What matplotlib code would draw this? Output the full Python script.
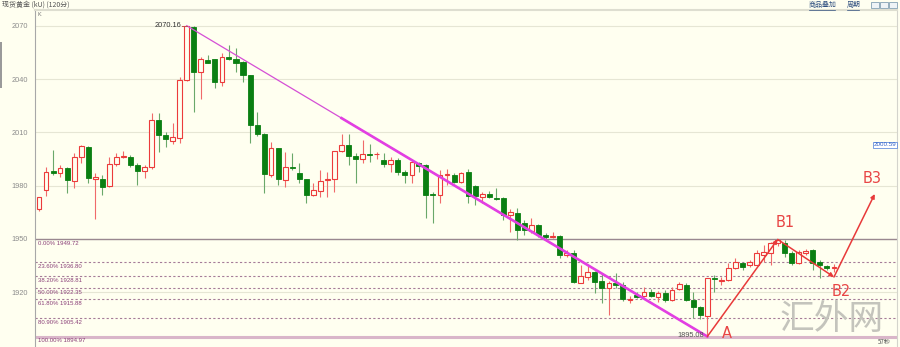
import matplotlib
matplotlib.use("Agg")
import matplotlib.pyplot as plt
from matplotlib.patches import Rectangle

# candle data (120 min bars)
opens = [1966.7, 1977.6, 1988.0, 1987.0, 1989.8, 1982.8, 1996.3, 2002.0, 1984.0, 1983.8,
         1979.8, 1992.2, 1996.0, 1996.3, 1991.6, 1988.4, 1990.7, 2017.0, 2008.6, 2005.4,
         2006.7, 2039.6, 2069.3, 2044.2, 2050.8, 2051.2, 2038.3, 2052.4, 2051.4, 2049.5,
         2042.4, 2014.2, 2009.1, 1986.0, 2001.1, 1983.2, 1990.7, 1987.0, 1983.6, 1974.7,
         1977.2, 1983.2, 1983.6, 1999.5, 2002.9, 1996.7, 1994.9, 1997.7, 1997.6, 1994.5,
         1992.0, 1994.5, 1987.9, 1986.0, 1992.6, 1991.6, 1975.3, 1974.7, 1985.8, 1986.0,
         1982.2, 1987.5, 1979.8, 1973.4, 1975.3, 1973.2, 1972.9, 1963.5, 1964.8, 1958.8,
         1954.5, 1957.8, 1952.2, 1951.0, 1951.6, 1940.9, 1941.8, 1925.3, 1928.7, 1931.1,
         1926.3, 1922.1, 1925.3, 1924.0, 1915.6, 1918.4, 1917.8, 1919.9, 1917.4, 1919.3,
         1915.5, 1921.6, 1924.0, 1915.5, 1911.4, 1906.5, 1927.8, 1926.3, 1926.8, 1933.4,
         1936.2, 1935.3, 1935.3, 1940.9, 1941.8, 1947.5, 1947.8, 1942.2, 1936.6, 1941.8,
         1943.7, 1937.1, 1934.7, 1933.4]
highs = [1973.5, 1990.7, 2000.1, 1991.6, 1990.5, 1998.2, 2003.0, 2002.5, 1987.3, 1986.0,
         1996.0, 1998.6, 1999.7, 1997.3, 1992.6, 1991.6, 2020.8, 2020.8, 2010.4, 2015.2,
         2041.4, 2070.16, 2069.8, 2052.7, 2053.7, 2051.5, 2054.6, 2059.3, 2057.4, 2050.0,
         2042.6, 2021.7, 2009.5, 2004.8, 2001.5, 1999.1, 1998.2, 1992.6, 1984.0, 1981.3,
         1988.8, 1987.9, 1999.8, 2009.1, 2009.0, 1998.2, 2005.7, 2003.5, 1999.1, 1998.2,
         1996.3, 1995.5, 1988.8, 1994.5, 1993.5, 1992.0, 1976.6, 1988.8, 1989.4, 1987.0,
         1987.9, 1989.4, 1980.5, 1976.6, 1977.2, 1978.5, 1973.5, 1966.7, 1967.2, 1960.6,
         1961.6, 1958.5, 1953.5, 1954.0, 1952.0, 1943.7, 1943.7, 1935.3, 1935.3, 1932.0,
         1930.6, 1926.0, 1930.6, 1925.9, 1917.8, 1920.2, 1923.0, 1921.6, 1920.8, 1921.2,
         1923.0, 1925.9, 1925.0, 1920.2, 1912.0, 1928.0, 1929.6, 1928.7, 1936.2, 1939.0,
         1937.1, 1938.0, 1943.7, 1946.5, 1948.0, 1949.72, 1949.4, 1943.0, 1943.5, 1944.1,
         1944.3, 1938.0, 1935.5, 1935.8]
lows = [1965.9, 1974.2, 1986.0, 1984.7, 1975.7, 1978.5, 1993.0, 1981.7, 1961.0, 1974.7,
        1979.0, 1991.1, 1995.4, 1990.3, 1980.4, 1984.2, 1989.2, 1999.1, 2002.0, 2003.5,
        2003.9, 2039.0, 2021.7, 2028.7, 2049.0, 2035.2, 2036.4, 2050.8, 2044.2, 2038.6,
        2003.9, 2008.0, 1975.7, 1985.0, 1980.4, 1979.4, 1988.8, 1981.3, 1970.4, 1974.2,
        1973.8, 1973.8, 1976.6, 1999.0, 1991.6, 1981.7, 1992.6, 1993.5, 1994.9, 1990.7,
        1987.9, 1986.0, 1981.3, 1981.3, 1987.9, 1961.6, 1958.8, 1970.4, 1980.4, 1981.5,
        1981.5, 1970.4, 1969.1, 1970.0, 1972.9, 1971.9, 1960.6, 1954.0, 1949.4, 1952.2,
        1953.5, 1951.2, 1950.0, 1950.3, 1939.0, 1940.0, 1925.0, 1925.0, 1926.8, 1919.7,
        1913.7, 1907.1, 1922.1, 1915.0, 1913.7, 1916.5, 1917.0, 1917.0, 1914.6, 1914.6,
        1915.0, 1921.0, 1915.0, 1905.2, 1904.7, 1894.97, 1920.2, 1924.0, 1926.0, 1933.0,
        1932.5, 1934.0, 1935.0, 1937.1, 1935.3, 1946.0, 1940.0, 1935.3, 1936.0, 1941.0,
        1932.5, 1927.8, 1932.5, 1931.5]
closes = [1973.4, 1987.9, 1987.0, 1989.8, 1983.2, 1996.3, 2002.4, 1984.2, 1984.6, 1979.4,
          1992.2, 1996.3, 1996.4, 1991.6, 1988.4, 1990.7, 2017.0, 2008.6, 2006.1, 2007.3,
          2039.6, 2070.0, 2044.2, 2051.2, 2049.3, 2038.3, 2052.4, 2051.2, 2049.0, 2042.4,
          2014.2, 2009.0, 1986.6, 2001.1, 1983.6, 1990.7, 1989.8, 1983.6, 1974.7, 1977.6,
          1982.8, 1983.8, 1999.5, 2002.9, 1996.7, 1994.9, 1997.7, 1997.1, 1998.0, 1992.0,
          1994.5, 1987.9, 1986.0, 1993.5, 1991.1, 1974.7, 1974.7, 1986.0, 1986.3, 1982.2,
          1987.0, 1974.2, 1974.2, 1975.3, 1973.4, 1972.6, 1963.5, 1965.3, 1955.0, 1955.0,
          1957.8, 1952.2, 1950.9, 1951.4, 1940.9, 1942.2, 1925.9, 1929.1, 1931.5, 1925.9,
          1922.1, 1925.0, 1924.0, 1915.9, 1916.2, 1917.4, 1920.2, 1917.8, 1919.7, 1915.5,
          1921.2, 1924.4, 1915.5, 1911.8, 1907.1, 1927.8, 1927.2, 1926.8, 1933.4, 1937.1,
          1934.3, 1937.1, 1941.8, 1942.8, 1947.5, 1949.4, 1941.8, 1936.6, 1942.8, 1943.3,
          1936.2, 1935.3, 1933.4, 1934.0]

yticks = [1920, 1950, 1980, 2010, 2040, 2070]

fib_pcts = ["0.00%", "23.60%", "38.20%", "50.00%", "61.80%", "80.90%", "100.00%"]
fib_vals = [1949.72, 1936.80, 1928.81, 1922.35, 1915.88, 1905.42, 1894.97]

# trend line and wave marks (bar index, price)
trend_start = (21, 2070.16)
trend_end = (95, 1894.97)
wave_names = ["A", "B1", "B2", "B3"]
wave_pts = [(95, 1894.97), (105, 1949.72), (113, 1928.5), (118.8, 1975.3)]
wave_label_pos = [(97.8, 1896.4), (106.0, 1959.5), (114.1, 1920.6), (118.4, 1984.3)]

BG = "#fffff0"
RED = "#ec3b3b"
GREEN = "#0a7f12"

W, H = 900, 347


def px(x, y):
    """pixel position -> figure fraction"""
    return x / W, 1 - y / H


fig = plt.figure(figsize=(9, 3.47), dpi=100, facecolor=BG)
ax = fig.add_axes([35 / W, 0, (897 - 35) / W, (347 - 10) / H])
ax.set_facecolor(BG)

for i in range(len(opens)):
    o, h, l, c = opens[i], highs[i], lows[i], closes[i]
    up = c >= o
    wick = "#f06a6a" if up else "#6aa86a"
    ax.vlines(i, l, h, color=wick, lw=0.8, zorder=3)
    bottom = min(o, c)
    height = max(abs(c - o), 0.45)
    if up:
        ax.bar(i, height, bottom=bottom, width=0.66, facecolor=BG,
               edgecolor=RED, lw=0.8, zorder=4)
    else:
        ax.bar(i, height, bottom=bottom, width=0.72, facecolor=GREEN,
               edgecolor=GREEN, lw=0.6, zorder=4)

# fibonacci retracement
for k, (pct, val) in enumerate(zip(fib_pcts, fib_vals)):
    if k == 0:
        ax.axhline(val, color="#9a8890", lw=1.0, zorder=2)
    elif k == len(fib_vals) - 1:
        ax.axhline(val, color="#d9b6c9", lw=2.2, zorder=2)
    else:
        ax.axhline(val, color="#a57c98", lw=0.8, ls=(0, (2, 2)), zorder=2)
    ax.text(-0.2, val - 0.9, f"{pct} {val:.2f}", fontsize=4.3, color="#8a3f78",
            family="Liberation Sans", va="top", ha="left", zorder=5)

# down trend line
ax.plot([trend_start[0], trend_end[0]], [trend_start[1], trend_end[1]],
        color="#d54fd5", lw=0.9, zorder=5)
t0 = 43
y0 = trend_start[1] + (trend_end[1] - trend_start[1]) * (t0 - trend_start[0]) / (trend_end[0] - trend_start[0])
ax.plot([t0, trend_end[0]], [y0, trend_end[1]], color="#e23fe2", lw=1.9, zorder=5)

ax.plot([trend_start[0] - 0.7, trend_start[0]], [trend_start[1], trend_start[1]],
        color="#c05050", lw=0.7, zorder=5)
ax.text(trend_start[0] - 0.8, trend_start[1], "2070.16", fontsize=5.3, color="#333333",
        family="Liberation Sans", ha="right", va="center", zorder=6)
ax.text(trend_end[0] - 0.4, trend_end[1] + 0.3, "1895.08", fontsize=5.3, color="#555555",
        family="Liberation Sans", ha="right", va="center", zorder=6)

# wave arrows A -> B1 -> B2 -> B3
for a, b in zip(wave_pts[:-1], wave_pts[1:]):
    ax.annotate("", xy=b, xytext=a,
                arrowprops=dict(arrowstyle="-|>", color="#e83a3a", lw=1.1,
                                mutation_scale=6, shrinkA=0, shrinkB=0), zorder=7)
for name, (xx, yy) in zip(wave_names, wave_label_pos):
    ax.text(xx, yy, name, fontsize=10.5, color="#e84545", ha="center", va="center", zorder=7)

ax.set_xlim(-0.57, (897 - 39) / 7.035)
ax.set_ylim(2070 - (347 - 26) / 1.774, 2070 + 16 / 1.774)
ax.set_yticks(yticks)
ax.set_yticklabels([str(v) for v in yticks], fontsize=5.3, color="#8c8c8c",
                   family="Liberation Sans")
ax.tick_params(axis="y", length=0, pad=5)
ax.set_xticks([])
ax.grid(axis="y", color="#e6e6d4", lw=0.8, zorder=1)

ax.spines["left"].set_color("#a8a8a8")
ax.spines["left"].set_linewidth(0.8)
ax.spines["top"].set_color("#deded0")
ax.spines["top"].set_linewidth(1.5)
ax.spines["right"].set_color("#d4d4cc")
ax.spines["right"].set_linewidth(0.8)
ax.spines["bottom"].set_visible(False)

# header and screen decorations
cjk = ["Noto Sans CJK SC", "DejaVu Sans"]
fig.text(*px(2, 4.5), "现货黄金 (kU) (120分)", fontsize=5, color="#555555",
         family=cjk, va="center", ha="left")
fig.text(*px(809, 4.5), "商品叠加", fontsize=5, color="#2f4f7f", family=cjk,
         va="center", ha="left")
fig.text(*px(847, 4.5), "周期", fontsize=5, color="#2f4f7f", family=cjk,
         va="center", ha="left")
fig.add_artist(plt.Line2D([809 / W, 835 / W], [1 - 9.5 / H, 1 - 9.5 / H], color="#2f4f7f", lw=0.5))
fig.add_artist(plt.Line2D([847 / W, 859 / W], [1 - 9.5 / H, 1 - 9.5 / H], color="#2f4f7f", lw=0.5))
for bx in [871, 880, 889]:
    fig.add_artist(Rectangle(px(bx, 8), 8 / W, 6 / H, facecolor="#eef3f6",
                             edgecolor="#6c8fa6", lw=0.5))
fig.text(*px(37, 15), "K", fontsize=4, color="#777777", va="center", ha="left")
fig.text(*px(885, 145), "2000.59", fontsize=4.5, color="#2f62c8", family="Liberation Sans",
         va="center", ha="center",
         bbox=dict(boxstyle="square,pad=0.15", facecolor="white", edgecolor="#4a7ad8", lw=0.5))
fig.text(*px(884, 342), "57秒", fontsize=4.5, color="#555555", family=cjk,
         va="center", ha="center")
fig.text(*px(832, 320), "汇外网", fontsize=25, color="#c4c4bc", family=cjk,
         va="center", ha="center")
fig.add_artist(Rectangle(px(0, 88), 2 / W, 46 / H, facecolor="#9a9a9a", edgecolor="none"))

fig.savefig("out.png", dpi=100, facecolor=BG)
